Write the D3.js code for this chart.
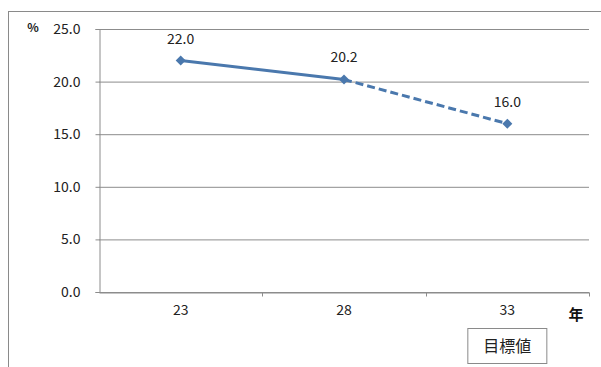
<!DOCTYPE html>
<html><head><meta charset="utf-8">
<script src="https://cdn.jsdelivr.net/npm/d3@7"></script>
<style>body{margin:0;background:#fff}svg{display:block}text{font-family:"Noto Sans CJK JP","Noto Sans",sans-serif}</style>
</head><body><svg id="c" width="601" height="367"></svg>
<script>
const years = ["23", "28", "33"];
const values = [22.0, 20.2, 16.0];
const actualYears = ["23", "28"];
const targetYears = ["28", "33"];
const yTicks = [0, 5, 10, 15, 20, 25];
const targetLabel = "目標値";

const svg = d3.select("#c");
svg.append("rect").attr("x", 8.5).attr("y", 11.5).attr("width", 600).attr("height", 360)
  .attr("fill", "#fff").attr("stroke", "#8a8a8a");

const m = {l: 99, r: 589, t: 29, b: 292};
const x = d3.scaleBand().domain(years).range([m.l, m.r]);
const y = d3.scaleLinear().domain([0, 25]).range([m.b, m.t]);

// gridlines
svg.append("g").selectAll("line").data(yTicks).join("line")
  .attr("x1", m.l).attr("x2", m.r).attr("y1", d => y(d) + 0.5).attr("y2", d => y(d) + 0.5)
  .attr("stroke", "#8c8c8c").attr("stroke-width", 1);

// y axis
const ya = svg.append("g").attr("transform", `translate(${m.l + 0.5},0)`)
  .call(d3.axisLeft(y).tickValues(yTicks).tickFormat(d3.format(".1f")).tickSize(4).tickPadding(15));
ya.select(".domain").attr("stroke", "#8c8c8c");
ya.selectAll(".tick line").attr("stroke", "#8c8c8c");
ya.selectAll(".tick text").attr("font-size", 14).attr("fill", "#222")
  .attr("font-family", "'Noto Sans CJK JP',sans-serif");

// x axis
const xa = svg.append("g").attr("transform", `translate(0,${m.b + 0.5})`)
  .call(d3.axisBottom(x).tickSize(0).tickPadding(13));
xa.select(".domain").attr("stroke", "#8c8c8c");
xa.selectAll(".tick text").attr("font-size", 14).attr("fill", "#222")
  .attr("font-family", "'Noto Sans CJK JP',sans-serif");
// category boundary ticks
const bounds = years.map(d => x(d) + x.bandwidth());
xa.append("g").selectAll("line").data(bounds).join("line")
  .attr("x1", d => Math.round(d) + 0.5).attr("x2", d => Math.round(d) + 0.5).attr("y1", 0).attr("y2", 4)
  .attr("stroke", "#8c8c8c");

const cx = d => x(d) + x.bandwidth() / 2;
const val = d => values[years.indexOf(d)];
const line = d3.line().x(d => cx(d)).y(d => y(val(d)));
const col = "#4a78ad";
svg.append("path").attr("d", line(actualYears)).attr("fill", "none")
  .attr("stroke", col).attr("stroke-width", 3);
svg.append("path").attr("d", line(targetYears)).attr("fill", "none")
  .attr("stroke", col).attr("stroke-width", 3).attr("stroke-dasharray", "8,4");

svg.append("g").selectAll("path").data(years).join("path")
  .attr("d", d3.symbol(d3.symbolSquare, 50))
  .attr("transform", d => `translate(${cx(d)},${y(val(d))}) rotate(45)`)
  .attr("fill", col);

svg.append("g").selectAll("text").data(years).join("text")
  .attr("x", d => cx(d)).attr("y", d => y(val(d)) - 17)
  .attr("text-anchor", "middle").attr("font-size", 14).attr("fill", "#222")
  .text(d => d3.format(".1f")(val(d)));

svg.append("text").attr("x", 33).attr("y", 32).attr("font-size", 12).attr("font-weight", "bold")
  .attr("text-anchor", "middle").attr("fill", "#222").text("%");
svg.append("text").attr("x", 576).attr("y", 320).attr("font-size", 15).attr("font-weight", "bold")
  .attr("text-anchor", "middle").attr("fill", "#111").text("年");

const bx = cx("33");
svg.append("rect").attr("x", bx - 39.5).attr("y", 328.5).attr("width", 79).attr("height", 35)
  .attr("fill", "#fff").attr("stroke", "#8a8a8a");
svg.append("text").attr("x", bx).attr("y", 352).attr("text-anchor", "middle")
  .attr("font-size", 16).attr("fill", "#222").text(targetLabel);
</script></body></html>
